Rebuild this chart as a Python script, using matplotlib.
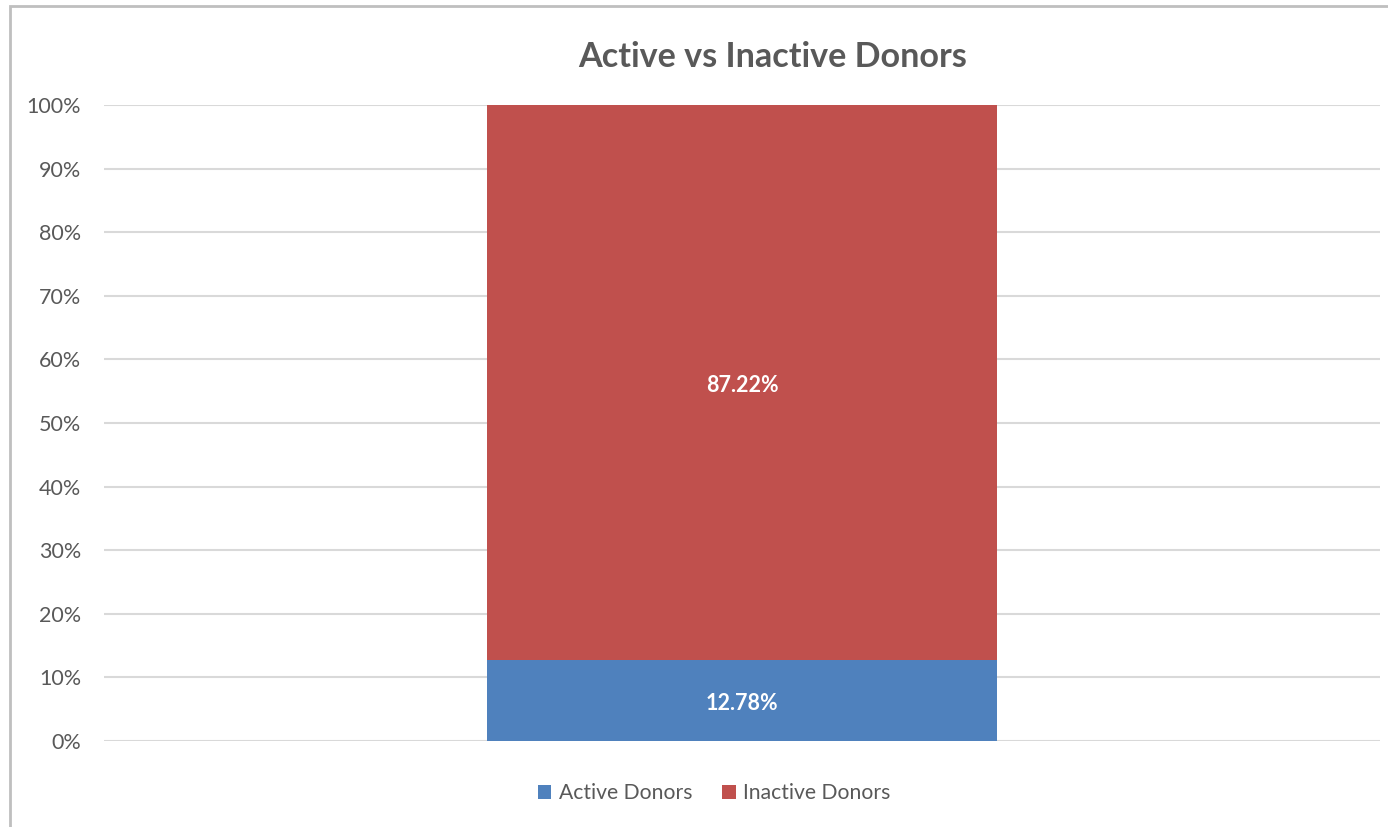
import matplotlib.pyplot as plt
from matplotlib.patches import Rectangle
from matplotlib.ticker import PercentFormatter

categories = ["Donors"]
series_names = ["Active Donors", "Inactive Donors"]
active = [12.78]
inactive = [87.22]
colors = ["#4F81BD", "#C0504D"]

plt.rcParams["font.family"] = ["Lato", "DejaVu Sans"]
text_gray = "#595959"

fig = plt.figure(figsize=(13.88, 8.27), dpi=100)
ax = fig.add_axes([104 / 1388, 1 - 741 / 827, 1276 / 1388, 636 / 827])

# frame around the chart area
fig.patches.append(Rectangle((10 / 1388, -0.1), 1.2, 1 - 6 / 827 + 0.1, transform=fig.transFigure,
                             fill=False, edgecolor="#BFBFBF", linewidth=2))

x = range(len(categories))
b1 = ax.bar(x, active, width=0.4, color=colors[0], label=series_names[0], zorder=2)
b2 = ax.bar(x, inactive, width=0.4, bottom=active, color=colors[1], label=series_names[1], zorder=2)

for bars, vals, base in [(b1, active, [0] * len(active)), (b2, inactive, active)]:
    for rect, v, b in zip(bars, vals, base):
        ax.text(rect.get_x() + rect.get_width() / 2, b + v / 2 - 0.5, f"{v:.2f}%", ha="center", va="center",
                color="white", fontsize=15.5, fontweight="bold", zorder=3)

ax.set_xlim(-0.5, 0.5)
ax.set_ylim(0, 100)
ax.set_yticks(range(0, 101, 10))
ax.yaxis.set_major_formatter(PercentFormatter(decimals=0))
ax.set_xticks([])
ax.grid(axis="y", color="#D9D9D9", linewidth=1.5, zorder=0)
for s in ax.spines.values():
    s.set_visible(False)
ax.tick_params(axis="y", length=0, pad=16.5, labelsize=15.5, labelcolor=text_gray)

fig.text(773 / 1388, 1 - 57 / 827, "Active vs Inactive Donors", ha="center", va="center",
         fontsize=24.6, fontweight="bold", color=text_gray)

fig.legend(loc="center", bbox_to_anchor=(714 / 1388, 1 - 793 / 827), ncol=2, frameon=False,
           fontsize=15.2, labelcolor=text_gray, handlelength=0.65, handleheight=0.65, handletextpad=0.35,
           columnspacing=1.4)

fig.savefig("out.png", dpi=100)
